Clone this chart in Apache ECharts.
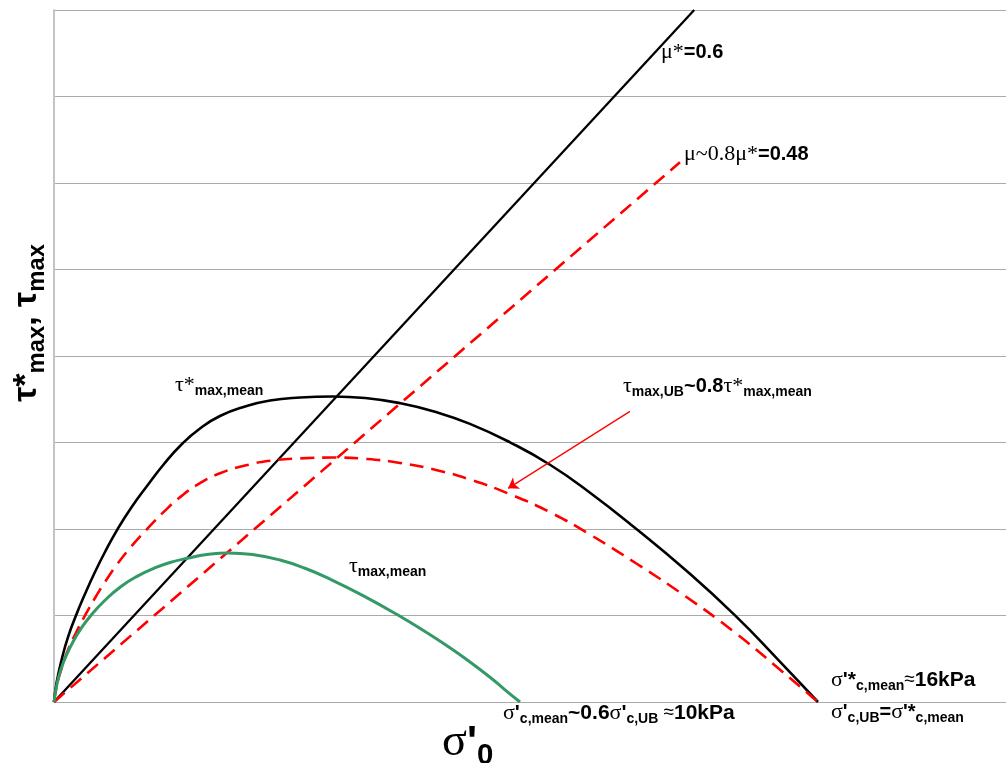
<!DOCTYPE html>
<html><head><meta charset="utf-8">
<script src="https://cdn.jsdelivr.net/npm/echarts@6/dist/echarts.min.js"></script>
<style>html,body{margin:0;padding:0;background:#fff}#c{width:1006px;height:763px}</style>
</head><body><div id="c"></div>
<script>
// ---- data (x: sigma'_0 in kPa, y: tau) ----
const X_MAX = 20;
const Y_MAX = 8;
const Y_INTERVAL = 1;
const frictionLine = [[0,0],[13.45,8]];          // mu* = 0.6
const frictionLineUB = [[0,0],[13.15,6.24]];     // mu ~ 0.8 mu* = 0.48
const tauStarMean = [[0,0],[0.053,0.220],[0.164,0.497],[0.294,0.751],[0.462,1.000],[0.651,1.249],[0.861,1.503],[1.071,1.734],[1.324,1.988],[1.618,2.243],[1.954,2.497],[2.311,2.751],[2.689,2.983],[3.067,3.162],[3.487,3.306],[4.013,3.416],[4.538,3.486],[5.168,3.520],[5.861,3.532],[6.534,3.514],[7.269,3.455],[8.004,3.356],[8.739,3.215],[9.580,3.002],[10.420,2.743],[11.261,2.420],[12.242,1.997],[13.256,1.532],[14.307,1.002],[15.210,0.491],[16.05,0]];
const tauUB = [[0,0],[0.053,0.176],[0.164,0.398],[0.294,0.601],[0.462,0.800],[0.651,0.999],[0.861,1.202],[1.071,1.387],[1.324,1.590],[1.618,1.794],[1.954,1.998],[2.311,2.201],[2.689,2.386],[3.067,2.530],[3.487,2.645],[4.013,2.733],[4.538,2.789],[5.168,2.816],[5.861,2.826],[6.534,2.811],[7.269,2.764],[8.004,2.685],[8.739,2.572],[9.580,2.402],[10.420,2.194],[11.261,1.936],[12.242,1.598],[13.256,1.226],[14.307,0.802],[15.210,0.393],[16.05,0]];
const tauMean = [[0,0],[0.063,0.208],[0.141,0.370],[0.263,0.543],[0.420,0.717],[0.588,0.865],[0.771,0.998],[1.071,1.176],[1.401,1.333],[1.744,1.453],[2.101,1.546],[2.437,1.613],[2.800,1.661],[3.214,1.704],[3.655,1.723],[4.202,1.702],[4.748,1.642],[5.273,1.546],[5.798,1.421],[6.492,1.230],[7.269,0.991],[7.794,0.814],[8.256,0.649],[8.697,0.479],[9.160,0.286],[9.475,0.141],[9.790,0]];
const arrowStart = [12.1, 3.36];
const arrowEnd = [9.54, 2.47];

const SERIF = '"Liberation Serif","DejaVu Serif",serif';
const SANS = '"Liberation Sans",Arial,sans-serif';
const BLACK = '#000000', RED = '#ff0000', GREEN = '#339966';

function styleFor(kind, color, scale, bsize) {
  scale = scale || 1;
  const L = 26 * scale;
  switch (kind) {
    case 'g': return {fontFamily: SERIF, fontSize: 22*scale, lineHeight: L, color};
    case 'b': return {fontFamily: SANS, fontWeight: 'bold', fontSize: (bsize||20)*scale, lineHeight: L, color};
    case 'n': return {fontFamily: SANS, fontSize: 19*scale, lineHeight: L, color};
    case 's': return {fontFamily: SANS, fontWeight: 'bold', fontSize: 14*scale, lineHeight: 14*scale, verticalAlign: 'bottom', color};
  }
}
function rich(parts, scale, bsize) {
  const r = {}; let text = '';
  parts.forEach((p, i) => {
    const key = 'p' + i;
    r[key] = Object.assign(styleFor(p[1], p[2], scale, bsize), p[3] || {});
    text += '{' + key + '|' + p[0] + '}';
  });
  return {text, rich: r};
}
function label(x, y, parts, extra) {
  extra = extra || {};
  const s = rich(parts, extra.scale, extra.bsize);
  return Object.assign({type: 'text', x, y, z: 100, silent: true,
    style: {text: s.text, rich: s.rich, align: extra.align || 'left', verticalAlign: extra.valign || 'top'}}, extra.el || {});
}

const graphics = [
  label(661, 39, [['μ*','g',BLACK],['=0.6','b',BLACK]]),
  label(684, 141, [['μ~0.8','g',RED],['μ*','g',BLACK],['=0.48','b',RED]]),
  label(175, 372, [['τ*','g',BLACK],['max,mean','s',BLACK]]),
  label(623, 373, [['τ','g',RED],['max,UB','s',RED],['~0.8','b',RED],['τ*','g',BLACK],['max,mean','s',BLACK]]),
  label(349, 553, [['τ','g',GREEN],['max,mean','s',GREEN]]),
  label(831, 667, [['σ','g',BLACK],["'*",'b',BLACK],['c,mean','s',BLACK],['≈','n',BLACK],['16kPa','b',BLACK]], {bsize: 21}),
  label(831, 699, [['σ','g',RED],["'",'b',RED],['c,UB','s',RED],['=','b',RED],['σ','g',BLACK],["'*",'b',BLACK],['c,mean','s',BLACK]]),
  label(503, 700, [['σ','g',GREEN],["'",'b',GREEN],['c,mean','s',GREEN],['~0.6','b',GREEN],['σ','g',RED],["'",'b',RED],['c,UB','s',RED],[' ≈','n',GREEN],['10kPa','b',GREEN]], {bsize: 21}),
  label(442, 716, [['σ','g',BLACK],["'",'b',BLACK],['0','s',BLACK,{lineHeight: 46}]], {scale: 2.1}),
  label(27, 323, [['τ*','b',BLACK],['max','s',BLACK],[', τ','b',BLACK],['max','s',BLACK]], {scale: 1.7, align: 'center', valign: 'middle', el: {rotation: Math.PI/2}})
];

const chart = echarts.init(document.getElementById('c'), null, {renderer: 'canvas'});
chart.setOption({
  animation: false,
  backgroundColor: '#ffffff',
  grid: {left: 54, right: 0, top: 10, bottom: 61},
  xAxis: {type: 'value', min: 0, max: X_MAX, show: false},
  yAxis: {type: 'value', min: 0, max: Y_MAX, interval: Y_INTERVAL,
    axisLine: {show: true, lineStyle: {color: '#c4c4c4', width: 2}},
    axisTick: {show: false}, axisLabel: {show: false},
    splitLine: {lineStyle: {color: '#aaaaaa', width: 1}}},
  series: [
    {type: 'line', data: frictionLine, showSymbol: false, lineStyle: {color: BLACK, width: 2.3}, z: 3},
    {type: 'line', data: frictionLineUB, showSymbol: false, lineStyle: {color: RED, width: 2.6, type: [14, 8]}, z: 3},
    {type: 'line', data: tauStarMean, showSymbol: false, smooth: 0.5, lineStyle: {color: BLACK, width: 2.6}, z: 4},
    {type: 'line', data: tauUB, showSymbol: false, smooth: 0.5, lineStyle: {color: RED, width: 2.6, type: [14, 8]}, z: 4,
      markLine: {silent: true, symbol: ['none', 'arrow'], symbolSize: 10, label: {show: false},
        lineStyle: {color: RED, width: 1.3, type: 'solid'},
        itemStyle: {color: RED},
        data: [[{coord: arrowStart}, {coord: arrowEnd}]]}},
    {type: 'line', data: tauMean, showSymbol: false, smooth: 0.5, lineStyle: {color: GREEN, width: 3}, z: 5}
  ],
  graphic: graphics
});
</script></body></html>
